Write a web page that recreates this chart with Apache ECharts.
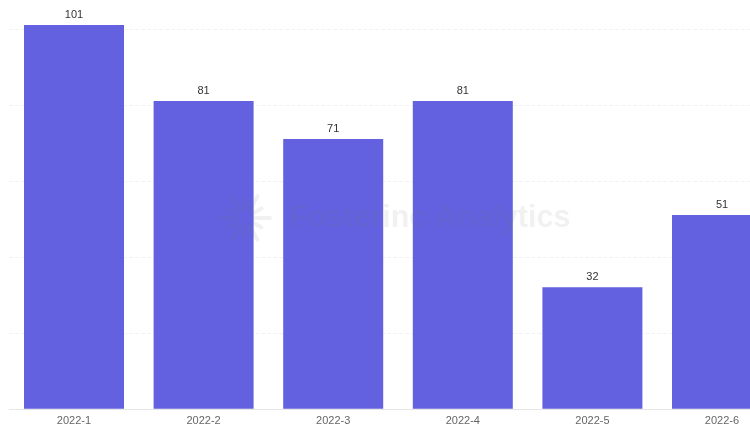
<!DOCTYPE html>
<html>
<head>
<meta charset="utf-8">
<script src="https://cdn.jsdelivr.net/npm/echarts@6/dist/echarts.min.js"></script>
<style>html,body{margin:0;padding:0;background:#fff}#c{width:750px;height:432px}</style>
</head>
<body>
<div id="c"></div>
<script>
const categories = ['2022-1', '2022-2', '2022-3', '2022-4', '2022-5', '2022-6'];
const values = [101, 81, 71, 81, 32, 51];

const chart = echarts.init(document.getElementById('c'), null, {renderer: 'canvas'});
const mark = [];
for (let i = 0; i < 12; i++) {
  const a = i / 12 * Math.PI * 2;
  const r1 = 9, r2 = 9 + (i % 2 ? 10 : 16);
  mark.push({type: 'line', shape: {x1: 245 + Math.cos(a) * r1, y1: 218 + Math.sin(a) * r1, x2: 245 + Math.cos(a) * r2, y2: 218 + Math.sin(a) * r2},
    style: {stroke: 'rgba(120,120,130,0.1)', lineWidth: 4, lineCap: 'round'}, z: 100});
}
chart.setOption({
  animation: false,
  backgroundColor: '#fff',
  grid: {left: 9.2, top: -47.2, width: 777.6, height: 456, containLabel: false, outerBoundsMode: 'none'},
  xAxis: {
    type: 'category', data: categories,
    axisLine: {lineStyle: {color: '#e6e6e6'}},
    axisTick: {show: false},
    axisLabel: {color: '#666', fontSize: 11, margin: 7, fontFamily: 'Arial, Liberation Sans, sans-serif'}
  },
  yAxis: {
    type: 'value', min: 0, max: 120, interval: 20,
    axisLabel: {show: false}, axisLine: {show: false}, axisTick: {show: false},
    splitLine: {lineStyle: {type: 'dashed', color: '#f2f2f2'}}
  },
  graphic: mark.concat([{
    type: 'text', left: 289, top: 203, z: 100,
    style: {text: 'Fosterinc Analytics', fill: 'rgba(120,120,130,0.1)', font: 'bold 30.5px Arial, Liberation Sans, sans-serif'}
  }]),
  series: [{
    type: 'bar', data: values, barWidth: 100,
    itemStyle: {color: '#6361df'},
    label: {show: true, position: 'top', color: '#333', fontSize: 11, distance: 5, fontFamily: 'Arial, Liberation Sans, sans-serif'},
    z: 2
  }]
});
</script>
</body>
</html>
